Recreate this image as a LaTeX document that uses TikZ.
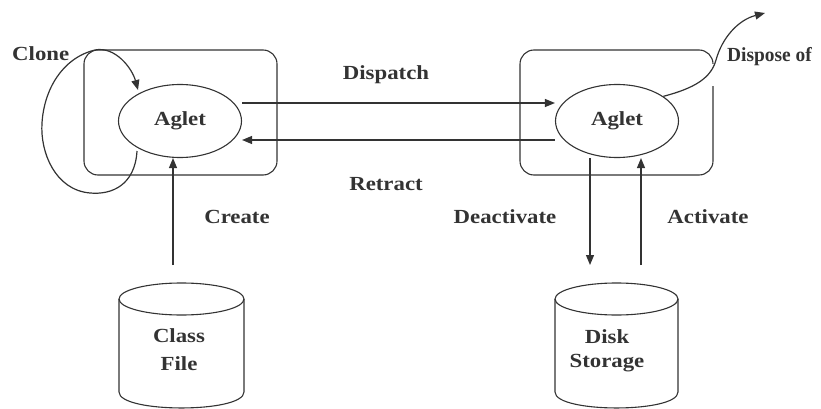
\documentclass[tikz,border=0pt]{standalone}
\usepackage{fontspec}
\newfontfamily\lblfont[FakeStretch=1.14]{Liberation Serif}
\newfontfamily\lblnarrow[FakeStretch=0.97]{Liberation Serif}
\usetikzlibrary{arrows.meta,shapes.geometric,calc}
\definecolor{ink}{HTML}{333333}
\tikzset{
  lbl/.style={font=\lblfont\bfseries\fontsize{20}{24}\selectfont, text=ink, inner sep=0pt},
  lblsmall/.style={font=\lblnarrow\bfseries\fontsize{20}{24}\selectfont, text=ink, inner sep=0pt},
  conn/.style={draw=ink, line width=1.2pt},
  arr/.style={conn, -{Triangle[length=10pt,width=8pt]}},
  hostbox/.style={draw=ink, line width=1.1pt, rounded corners=14pt, minimum width=193pt, minimum height=125pt, inner sep=0pt},
  agletnode/.style={ellipse, draw=ink, line width=1.1pt, minimum width=123pt, minimum height=73pt, inner sep=0pt, lbl},
}
\begin{document}
\begin{tikzpicture}[x=1pt,y=-1pt]
\useasboundingbox (0,0) rectangle (821,409);
% host boxes
\node[hostbox] (boxL) at (180.5,112.5) {};
\node[hostbox] (boxR) at (616.5,112.5) {};
% aglets
\node[agletnode] (aL) at (180,121) {Aglet};
\node[agletnode] (aR) at (617,121) {Aglet};
% dispatch / retract
\draw[arr] ($(aL.east)+(0,-18)$) -- ($(aR.west)+(0,-18)$);
\draw[arr] ($(aR.west)+(0,19)$) -- ($(aL.east)+(0,19)$);
\node[lbl, anchor=base] (dispatch) at (386,80) {Dispatch};
\node[lbl, anchor=base] (retract) at (386,190) {Retract};
% clone loop
\coordinate (cl0) at (137,151);
\coordinate (cl1) at (138,90);
\draw[arr] (cl0) .. controls (135,185) and (112,195) .. (90,193)
  .. controls (55,190) and (40,152) .. (42,123)
  .. controls (44,90) and (62,58) .. (95,50)
  .. controls (115,46) and (132,68) .. (cl1);
\node[lbl, anchor=base west] (clone) at (12,61) {Clone};
% dispose of
\draw[white, line width=4pt] (713.5,64) -- (713.5,86);
\coordinate (disp) at (765,13);
\draw[arr] (aR.28) .. controls (695,88) and (711,78) .. (716,60)
  .. controls (722,38) and (738,20) .. (disp);
\node[lblsmall, anchor=base west] (dispose) at (727,62) {Dispose of};
% cylinders
\draw[ink, line width=1.1pt] (181.5,299) ellipse [x radius=62.5pt, y radius=16pt];
\draw[ink, line width=1.1pt] (119,299) -- (119,392) .. controls (119,413.3) and (244,413.3) .. (244,392) -- (244,299);
\node[lbl, anchor=base] (class) at (179,342) {Class};
\node[lbl, anchor=base] (file) at (179,370) {File};
\draw[ink, line width=1.1pt] (616.5,299) ellipse [x radius=61.5pt, y radius=16pt];
\draw[ink, line width=1.1pt] (555,299) -- (555,392) .. controls (555,413.3) and (678,413.3) .. (678,392) -- (678,299);
\node[lbl, anchor=base] (disk) at (607,343) {Disk};
\node[lbl, anchor=base] (storage) at (607,367) {Storage};
% create
\coordinate (cre) at (173,265);
\draw[arr] (cre) -- (aL.south -| cre);
\node[lbl, anchor=base] (create) at (237,223) {Create};
% deactivate / activate
\coordinate (dea) at (590,265);
\coordinate (act) at (641,265);
\draw[arr] (aR.south -| dea) -- (dea);
\draw[arr] (act) -- (aR.south -| act);
\node[lbl, anchor=base] (deactivate) at (505,223) {Deactivate};
\node[lbl, anchor=base] (activate) at (708,223) {Activate};
\end{tikzpicture}
\end{document}
